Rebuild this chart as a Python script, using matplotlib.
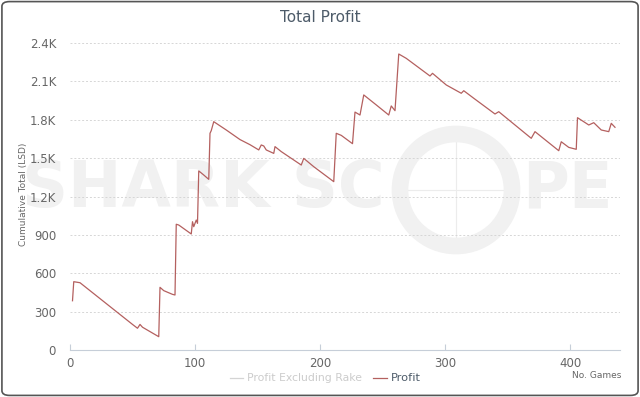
import matplotlib
matplotlib.use("Agg")
import matplotlib.pyplot as plt
from matplotlib.patches import Circle, FancyBboxPatch
from matplotlib.ticker import FixedLocator

# key points of the cumulative profit line
games = [2, 3, 8, 50, 54, 56, 58, 71, 72, 75, 82, 84, 85, 87, 97, 98, 99, 101, 102,
         103, 107, 111, 112, 113, 115, 125, 136, 144, 151, 153, 155, 157, 163, 164,
         169, 185, 187, 195, 211, 213, 217, 226, 228, 232, 235, 245, 255, 257, 260,
         263, 269, 288, 290, 301, 313, 315, 323, 340, 343, 369, 372, 391, 393, 399,
         405, 406, 413, 415, 419, 425, 431, 433, 436]
profit = [385, 534, 526, 200, 170, 200, 178, 104, 490, 464, 435, 430, 983, 977, 907,
          1003, 964, 1016, 990, 1400, 1368, 1334, 1694, 1715, 1785, 1720, 1645, 1605,
          1564, 1603, 1595, 1564, 1537, 1590, 1551, 1446, 1498, 1433, 1316, 1694, 1678,
          1613, 1860, 1837, 1994, 1916, 1837, 1908, 1871, 2314, 2280, 2142, 2163, 2072,
          2007, 2027, 1968, 1845, 1863, 1655, 1707, 1558, 1628, 1584, 1569, 1816, 1772,
          1759, 1777, 1720, 1707, 1772, 1741]

y_ticks = [0, 300, 600, 900, 1200, 1500, 1800, 2100, 2400]
y_labels = ["0", "300", "600", "900", "1.2K", "1.5K", "1.8K", "2.1K", "2.4K"]
x_ticks = [0, 100, 200, 300, 400]

fig = plt.figure(figsize=(6.4, 3.97), dpi=100)

# rounded frame around the whole chart
frame = FancyBboxPatch((0.003, 0.004), 0.994, 0.992, boxstyle="round,pad=0,rounding_size=0.012",
                       transform=fig.transFigure, facecolor="none", edgecolor="#555555",
                       linewidth=1.2, zorder=5)
fig.patches.append(frame)

# faint watermark behind the plot
wm = "#f1f1f1"
fig.text(22 / 640, 1 - 189 / 397, "SHARK SC", fontsize=46, fontweight="bold", color=wm,
         ha="left", va="center", zorder=0)
fig.text(522 / 640, 1 - 189 / 397, "PE", fontsize=46, fontweight="bold", color=wm,
         ha="left", va="center", zorder=0)
ring = Circle((456, 397 - 190), 56, transform=None, fill=False, edgecolor=wm, linewidth=12, zorder=0)
fig.patches.append(ring)
fig.lines.append(plt.Line2D([456 / 640, 456 / 640], [1 - 140 / 397, 1 - 240 / 397],
                            transform=fig.transFigure, color="#ececec", lw=0.8, zorder=0))
fig.lines.append(plt.Line2D([404 / 640, 508 / 640], [1 - 190 / 397, 1 - 190 / 397],
                            transform=fig.transFigure, color="#ececec", lw=0.8, zorder=0))

ax = fig.add_axes([70 / 640, 47 / 397, 550 / 640, 307 / 397])
ax.set_facecolor("none")
ax.set_zorder(2)

ax.plot(games, profit, color="#b4605f", linewidth=0.9, zorder=3)

ax.set_xlim(0, 440)
ax.set_ylim(0, 2400)
ax.yaxis.set_major_locator(FixedLocator(y_ticks))
ax.set_yticklabels(y_labels)
ax.xaxis.set_major_locator(FixedLocator(x_ticks))
for t in y_ticks[1:]:
    ax.axhline(t, color="#d6d6d6", linewidth=0.7, linestyle=(0, (2, 2)), zorder=1)

for side in ["top", "right", "left"]:
    ax.spines[side].set_visible(False)
ax.spines["bottom"].set_color("#c6ced8")
ax.spines["bottom"].set_linewidth(0.8)
ax.tick_params(axis="y", length=0, pad=10, labelsize=8.5, labelcolor="#666666")
ax.tick_params(axis="x", direction="in", length=4, color="#c6ced8", pad=5,
               labelsize=8.5, labelcolor="#666666")

fig.text(0.5, 1 - 18 / 397, "Total Profit", ha="center", va="center", fontsize=11,
         color="#4d5b69")
fig.text(24 / 640, 1 - 194 / 397, "Cumulative Total (LSD)", rotation=90, ha="center",
         va="center", fontsize=6.5, color="#666666")
fig.text(621 / 640, 1 - 376 / 397, "No. Games", ha="right", va="center", fontsize=6.5,
         color="#666666")

# legend drawn by hand to match the layout
ly = 1 - 378 / 397
fig.lines.append(plt.Line2D([230 / 640, 243 / 640], [ly, ly], transform=fig.transFigure,
                            color="#d4d4d4", lw=0.9))
fig.text(247 / 640, ly, "Profit Excluding Rake", ha="left", va="center", fontsize=7.8,
         color="#cccccc")
fig.lines.append(plt.Line2D([373 / 640, 387 / 640], [ly, ly], transform=fig.transFigure,
                            color="#b4605f", lw=0.9))
fig.text(391 / 640, ly, "Profit", ha="left", va="center", fontsize=8.2, color="#4d5b69")

fig.savefig("out.png", dpi=100)
